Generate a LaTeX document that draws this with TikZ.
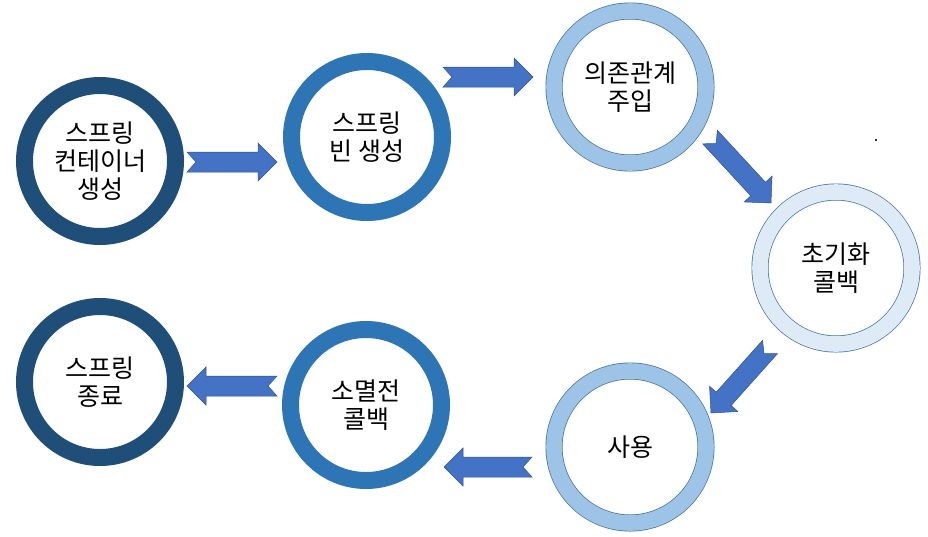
\documentclass[tikz,border=0pt]{standalone}
\usepackage{fontspec}
\newfontfamily\kr{Noto Sans CJK KR}
\usetikzlibrary{calc}
\definecolor{navy}{HTML}{1F4E79}
\definecolor{midblue}{HTML}{2E75B6}
\definecolor{lightblue}{HTML}{9DC3E6}
\definecolor{paleblue}{HTML}{DEEBF7}
\definecolor{edgeblue}{HTML}{41719C}
\definecolor{arrowblue}{HTML}{4472C4}
\definecolor{arrowedge}{HTML}{2F528F}
\tikzset{
  stage/.style={circle, inner sep=0pt, align=center, font=\kr\fontsize{25}{28}\selectfont, text=black},
  thickring/.style={stage, draw=#1, line width=17pt, minimum size=151pt},
  edgering/.style={stage, draw=edgeblue, line width=0.7pt, double=#1, double distance=15.6pt, minimum size=152pt},
  flowarrow/.style={fill=arrowblue, draw=arrowedge, line width=0.5pt, line join=miter},
}
\newcommand\notcharrow[2]{%
  \coordinate (#2-base) at ($(#2)!19pt!(#1)$);
  \filldraw[flowarrow] ($(#1)!10pt!90:(#2)$) -- ($(#2-base)!10pt!90:(#2)$)
    -- ($(#2-base)!19pt!90:(#2)$) -- (#2) -- ($(#2-base)!19pt!-90:(#2)$)
    -- ($(#2-base)!10pt!-90:(#2)$) -- ($(#1)!10pt!-90:(#2)$)
    -- ($(#1)!9pt!(#2)$) -- cycle;}
\begin{document}
\begin{tikzpicture}[x=1pt, y=-1pt]
\useasboundingbox[fill=white] (0,0) rectangle (928,536);

\node[thickring=navy] (c1) at (100,161) {스프링\\컨테이너\\생성};
\node[thickring=midblue] (c2) at (367,137) {스프링\\빈 생성};
\node[edgering=lightblue] (c3) at (630,87) {의존관계\\주입};
\node[edgering=paleblue] (c4) at (836,268) {초기화\\콜백};
\node[edgering=lightblue] (c5) at (630,447) {사용};
\node[thickring=midblue] (c6) at (366,405) {소멸전\\콜백};
\node[thickring=navy] (c7) at (100,382) {스프링\\종료};

\coordinate (a1s) at (187,162); \coordinate (a1e) at (277,162);
\coordinate (a2s) at (443,77);  \coordinate (a2e) at (533,77);
\coordinate (a3s) at (710,137); \coordinate (a3e) at (771,203);
\coordinate (a4s) at (770,347); \coordinate (a4e) at (711,413);
\coordinate (a5s) at (532,467); \coordinate (a5e) at (444,467);
\coordinate (a6s) at (277,386); \coordinate (a6e) at (187,386);

\notcharrow{a1s}{a1e}
\notcharrow{a2s}{a2e}
\notcharrow{a3s}{a3e}
\notcharrow{a4s}{a4e}
\notcharrow{a5s}{a5e}
\notcharrow{a6s}{a6e}

\fill[black!80] (875,139) rectangle (877,141);
\end{tikzpicture}
\end{document}
